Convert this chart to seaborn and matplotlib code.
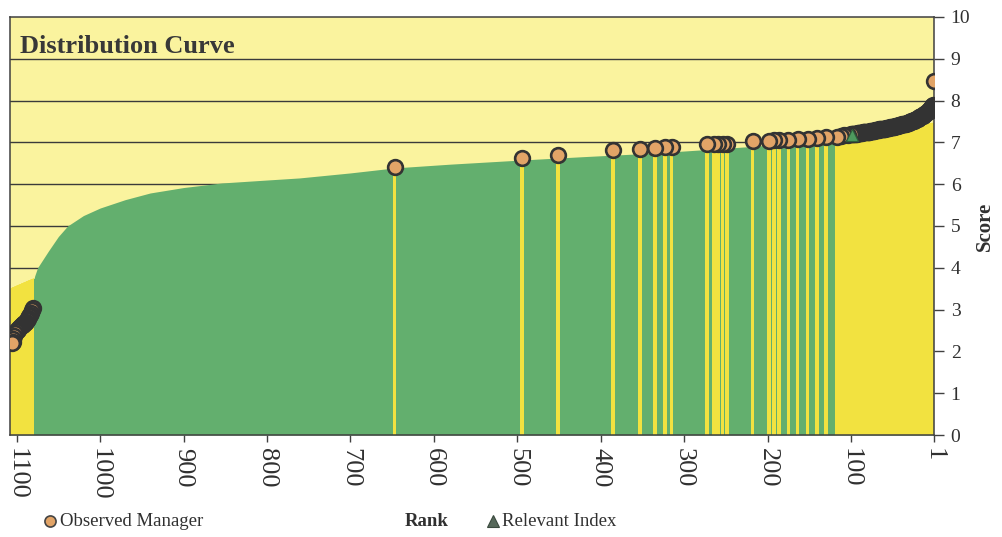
import numpy as np
import pandas as pd
import matplotlib
matplotlib.use("Agg")
import matplotlib.pyplot as plt
import seaborn as sns
from matplotlib.lines import Line2D

# ---------------- data ----------------
# universe distribution curve (rank -> score), vertices of the area
curve_rank = [1108, 1079, 1078.5, 1075, 1062, 1050, 1039, 1020, 1000, 970, 940,
              900, 854, 800, 761, 700, 647, 580, 494, 420, 341, 280, 221, 170,
              120, 90, 65, 45, 30, 15, 6, 1]
curve_score = [3.50, 3.75, 3.80, 4.00, 4.40, 4.75, 5.00, 5.25, 5.43, 5.63, 5.79,
               5.92, 6.03, 6.10, 6.15, 6.27, 6.39, 6.48, 6.58, 6.66, 6.74, 6.82,
               6.90, 6.98, 7.05, 7.12, 7.20, 7.27, 7.33, 7.40, 7.45, 7.47]

# observed managers: low cluster
obs_low_rank = list(range(1081, 1107))
obs_low_score = [3.04, 2.98, 2.93, 2.88, 2.84, 2.80, 2.77, 2.74, 2.71, 2.69,
                 2.67, 2.65, 2.63, 2.62, 2.60, 2.58, 2.56, 2.54, 2.52, 2.50,
                 2.48, 2.44, 2.38, 2.30, 2.22, 2.20]
# observed managers: sparse middle
obs_mid_rank = [647, 494, 451, 385, 353, 335, 323, 315, 273, 264, 259, 254, 249,
                218, 198, 192, 186, 175, 164, 152, 141, 130, 117, 112, 108, 104]
obs_mid_score = [6.42, 6.62, 6.70, 6.82, 6.84, 6.87, 6.88, 6.88, 6.96, 6.96, 6.96,
                 6.96, 6.96, 7.04, 7.04, 7.05, 7.05, 7.06, 7.07, 7.08, 7.10, 7.12,
                 7.14, 7.16, 7.17, 7.18]
# observed managers: dense top (ranks 1..100)
obs_top_rank = list(range(1, 101))
obs_top_score = [8.47, 7.90, 7.86, 7.83, 7.80, 7.78, 7.75, 7.73, 7.72, 7.70,
                 7.69, 7.67, 7.66, 7.64, 7.63, 7.62, 7.61, 7.60, 7.58, 7.57,
                 7.56, 7.55, 7.54, 7.53, 7.52, 7.51, 7.50, 7.50, 7.49, 7.48,
                 7.47, 7.47, 7.46, 7.45, 7.45, 7.44, 7.44, 7.43, 7.43, 7.42,
                 7.42, 7.41, 7.41, 7.40, 7.40, 7.39, 7.39, 7.38, 7.38, 7.37,
                 7.37, 7.36, 7.36, 7.35, 7.35, 7.35, 7.34, 7.34, 7.33, 7.33,
                 7.33, 7.32, 7.32, 7.31, 7.31, 7.31, 7.30, 7.30, 7.29, 7.29,
                 7.29, 7.28, 7.28, 7.28, 7.27, 7.27, 7.27, 7.26, 7.26, 7.26,
                 7.25, 7.25, 7.25, 7.24, 7.24, 7.24, 7.23, 7.23, 7.23, 7.22,
                 7.22, 7.22, 7.21, 7.21, 7.21, 7.20, 7.20, 7.20, 7.19, 7.19]

index_rank = [99]
index_score = [7.18]

x_ticks = [1100, 1000, 900, 800, 700, 600, 500, 400, 300, 200, 100, 1]
y_ticks = [0, 1, 2, 3, 4, 5, 6, 7, 8, 9, 10]

# ---------------- style ----------------
BG = "#FAF39E"
GREEN = "#63AF6E"
YELLOW = "#F2E240"
ORANGE = "#E2A467"
EDGE = "#333333"
SPINE = "#404040"

sns.set_theme(style="white")
plt.rcParams["font.family"] = ["Liberation Serif", "DejaVu Serif"]

obs = pd.DataFrame({
    "rank": obs_top_rank + obs_mid_rank + obs_low_rank,
    "score": obs_top_score + obs_mid_score + obs_low_score,
}).sort_values("rank").reset_index(drop=True)
idx = pd.DataFrame({"rank": index_rank, "score": index_score})

fig = plt.figure(figsize=(10.02, 5.37), dpi=100)
ax = fig.add_axes([10 / 1002, 1 - 435 / 537, 924 / 1002, 418 / 537])
ax.set_facecolor(BG)

# gridlines
for yv in y_ticks[1:-1]:
    ax.axhline(yv, color="#3a3a3a", lw=1.0, zorder=0.5)

# universe area
area = ax.fill_between(curve_rank, 0, curve_score, color=GREEN, lw=0, zorder=1)
clip = area.get_paths()[0]

# observed stripes, clipped to the universe area
bars = ax.bar(obs["rank"], 10, width=4.5, bottom=0, color=YELLOW, lw=0, zorder=2)
for b in bars:
    b.set_clip_path(clip, ax.transData)

# observed managers
sns.scatterplot(data=obs, x="rank", y="score", ax=ax, s=112, color=ORANGE,
                edgecolor=EDGE, linewidth=1.9, zorder=4, legend=False)
sns.scatterplot(data=idx, x="rank", y="score", ax=ax, s=75, marker="^",
                color="#4E9A5E", edgecolor="#2f5f3a", linewidth=0.8, zorder=5,
                legend=False)

ax.set_xlim(1108, 0.5)
ax.set_ylim(0, 10)
ax.set_xlabel("")
ax.set_ylabel("")

ax.set_xticks(x_ticks)
ax.set_xticklabels([str(t) for t in x_ticks], rotation=-90, fontsize=19,
                   color="#303030")
ax.yaxis.tick_right()
ax.set_yticks(y_ticks)
ax.set_yticklabels([str(t) for t in y_ticks], fontsize=14, color="#303030")
ax.tick_params(axis="x", direction="out", length=5, width=1, color=SPINE, pad=4,
               bottom=True)
ax.tick_params(axis="y", direction="out", length=7, width=1, color=SPINE, pad=5,
               right=True, left=False)
for s in ax.spines.values():
    s.set_visible(True)
    s.set_color(SPINE)
    s.set_linewidth(1.1)

ax.text(0.011, 9.13, "Distribution Curve", transform=ax.get_yaxis_transform(),
        fontsize=19, fontweight="bold", color="#383838", va="baseline", ha="left",
        zorder=6)

# right axis title
fig.text(985 / 1002, 1 - 226 / 537, "Score", rotation=90, fontsize=15,
         fontweight="bold", color="#303030", ha="center", va="center")

# bottom legend row
ly = 1 - 521 / 537
fig.add_artist(Line2D([50 / 1002], [ly], transform=fig.transFigure, marker="o",
                      markersize=8, markerfacecolor=ORANGE, markeredgecolor="#444444",
                      markeredgewidth=1.2, linestyle="none"))
fig.text(60 / 1002, ly, "Observed Manager", fontsize=13.5, color="#303030",
         ha="left", va="center")
fig.text(405 / 1002, ly, "Rank", fontsize=13.5, fontweight="bold", color="#303030",
         ha="left", va="center")
fig.add_artist(Line2D([493 / 1002], [ly], transform=fig.transFigure, marker="^",
                      markersize=8, markerfacecolor="#56685a", markeredgecolor="#3a4a3e",
                      markeredgewidth=0.8, linestyle="none"))
fig.text(502 / 1002, ly, "Relevant Index", fontsize=13.5, color="#303030",
         ha="left", va="center")

fig.savefig("out.png", dpi=100, facecolor="white")
